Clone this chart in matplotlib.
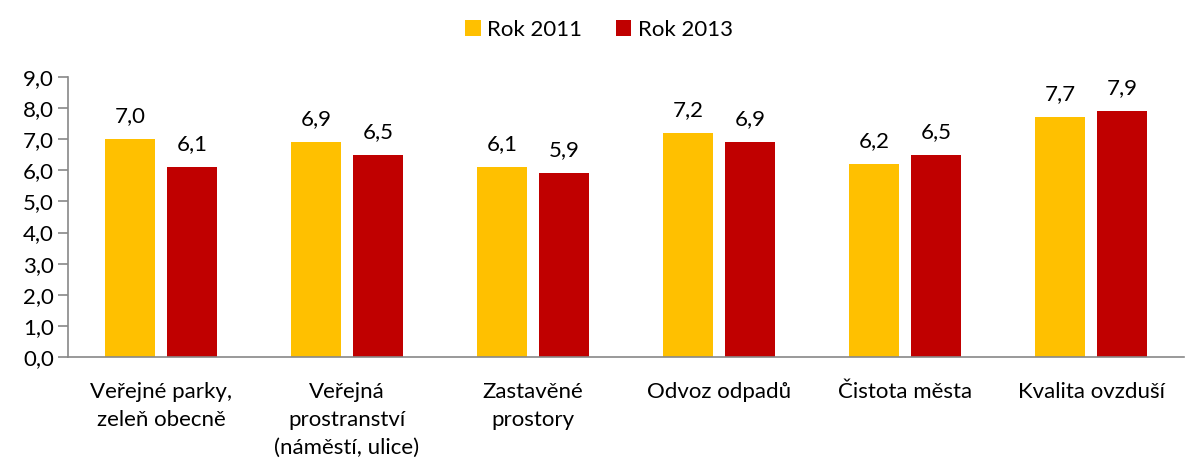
import matplotlib.pyplot as plt
import numpy as np

categories = ['Veřejné parky,\nzeleň obecně', 'Veřejná\nprostranství\n(náměstí, ulice)',
              'Zastavěné\nprostory', 'Odvoz odpadů', 'Čistota města', 'Kvalita ovzduší']
rok_2011 = [7.0, 6.9, 6.1, 7.2, 6.2, 7.7]
rok_2013 = [6.1, 6.5, 5.9, 6.9, 6.5, 7.9]
yticks = [0, 1, 2, 3, 4, 5, 6, 7, 8, 9]

plt.rcParams['font.family'] = ['Lato', 'DejaVu Sans']

fig = plt.figure(figsize=(11.86, 4.70), dpi=100)
ax = fig.add_axes([68 / 1186, 1 - 357 / 470, (1184 - 68) / 1186, (357 - 77) / 470])

x = np.arange(len(categories))
w = 0.27
off = 0.167
b1 = ax.bar(x - off, rok_2011, w, color='#FFC000', label='Rok 2011')
b2 = ax.bar(x + off, rok_2013, w, color='#C00000', label='Rok 2013')

for bars, vals in ((b1, rok_2011), (b2, rok_2013)):
    for b, v in zip(bars, vals):
        ax.text(b.get_x() + b.get_width() / 2, v + 0.42, f'{v:.1f}'.replace('.', ','),
                ha='center', va='bottom', fontsize=16)

ax.set_xlim(-0.5, len(categories) - 0.5)
ax.set_ylim(0, 9)
ax.set_yticks(yticks)
ax.set_yticklabels([f'{t:.1f}'.replace('.', ',') for t in yticks], fontsize=16)
ax.set_xticks(x)
ax.set_xticklabels(categories, fontsize=16, linespacing=1.5, va='top')
ax.tick_params(axis='x', length=0, pad=18)
ax.tick_params(axis='y', length=7, color='#888888', width=1.2, pad=3)

for s in ('top', 'right'):
    ax.spines[s].set_visible(False)
for s in ('left', 'bottom'):
    ax.spines[s].set_color('#888888')
    ax.spines[s].set_linewidth(1.2)

fig.legend(loc='upper center', bbox_to_anchor=(0.505, 1.0), ncol=2, frameon=False,
           fontsize=16, handlelength=0.7, handleheight=0.7, handletextpad=0.3,
           columnspacing=1.5)

fig.savefig('out.png', dpi=100)
